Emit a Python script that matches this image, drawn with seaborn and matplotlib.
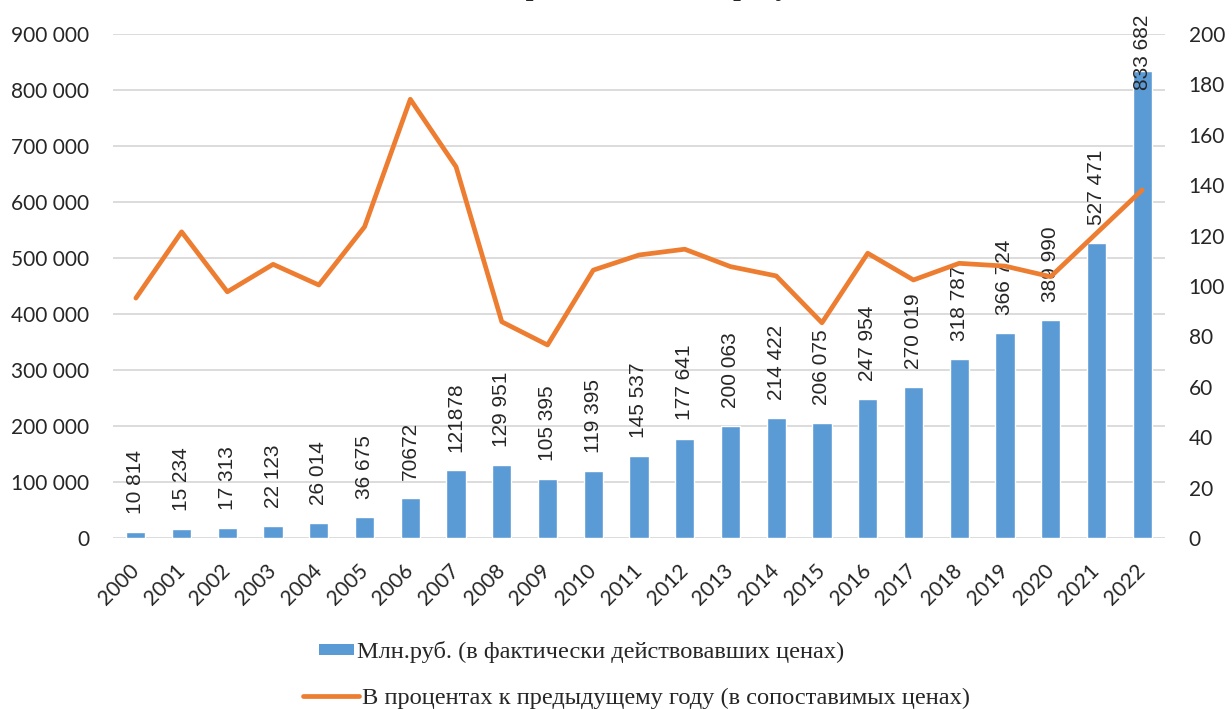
import numpy as np
import pandas as pd
import matplotlib
matplotlib.use("Agg")
import matplotlib.pyplot as plt
from matplotlib.lines import Line2D
from matplotlib.patches import Patch
import seaborn as sns

# Data
years = [str(y) for y in range(2000, 2023)]
mln_rub = [10814, 15234, 17313, 22123, 26014, 36675, 70672, 121878, 129951,
           105395, 119395, 145537, 177641, 200063, 214422, 206075, 247954,
           270019, 318787, 366724, 389990, 527471, 833682]
bar_labels = ["10 814", "15 234", "17 313", "22 123", "26 014", "36 675",
              "70672", "121878", "129 951", "105 395", "119 395", "145 537",
              "177 641", "200 063", "214 422", "206 075", "247 954",
              "270 019", "318 787", "366 724", "389 990", "527 471",
              "833 682"]
growth_pct = [95.2, 121.5, 97.7, 108.6, 100.4, 123.5, 174.1, 147.3, 85.8,
              76.6, 106.3, 112.3, 114.6, 107.7, 104.0, 85.4, 113.0, 102.4,
              109.0, 107.9, 103.7, 120.9, 138.1]
left_ticks = [0, 100000, 200000, 300000, 400000, 500000, 600000, 700000,
              800000, 900000]
left_ticklabels = ["0", "100 000", "200 000", "300 000", "400 000",
                   "500 000", "600 000", "700 000", "800 000", "900 000"]
right_ticks = [0, 20, 40, 60, 80, 100, 120, 140, 160, 180, 200]

bar_name = "Млн.руб. (в фактически действовавших ценах)"
line_name = "В процентах к предыдущему году (в сопоставимых ценах)"
title = "Валовой региональный продукт"

BLUE = "#5B9BD5"
ORANGE = "#ED7D31"
GRID = "#D9D9D9"

sns.set_style("white")
plt.rcParams["font.family"] = ["Lato", "DejaVu Sans"]

df = pd.DataFrame({"year": years, "value": mln_rub, "pct": growth_pct})

fig = plt.figure(figsize=(12.32, 7.09), dpi=100)
ax = fig.add_axes([113 / 1232, 1 - 538 / 709, (1165 - 113) / 1232, 504 / 709])

sns.barplot(data=df, x="year", y="value", color=BLUE, width=0.42,
            saturation=1, ax=ax)
ax.set_ylim(0, 900000)
ax.set_xlim(-0.5, len(years) - 0.5)
ax.set_yticks(left_ticks)
ax.set_yticklabels(left_ticklabels)
ax.set_xlabel("")
ax.set_ylabel("")
ax.yaxis.grid(True, color=GRID, linewidth=1.3)
ax.set_axisbelow(True)
ax.tick_params(axis="y", length=0, pad=17, labelsize=15)
ax.tick_params(axis="x", length=0, pad=21, labelsize=15)
for lbl in ax.get_xticklabels():
    lbl.set_rotation(45)
    lbl.set_ha("right")
    lbl.set_va("center")
    lbl.set_rotation_mode("anchor")
for s in ax.spines.values():
    s.set_visible(False)

# data labels on bars
for i, (v, txt) in enumerate(zip(mln_rub, bar_labels)):
    if v == max(mln_rub):
        ax.text(i, 1.038, txt, transform=ax.get_xaxis_transform(),
                rotation=90, ha="center", va="top", fontsize=15,
                family="Liberation Sans", clip_on=False)
    else:
        ax.annotate(txt, (i, v), xytext=(0, 13), textcoords="offset points",
                    rotation=90, ha="center", va="bottom", fontsize=15,
                    family="Liberation Sans")

ax2 = ax.twinx()
sns.lineplot(x=np.arange(len(years)), y=growth_pct, color=ORANGE,
             linewidth=3.4, ax=ax2)
ax2.set_ylim(0, 200)
ax2.set_yticks(right_ticks)
ax2.tick_params(axis="y", length=0, pad=17, labelsize=15)
for s in ax2.spines.values():
    s.set_visible(False)

# title sits mostly above the top edge, as in the source picture
fig.text(0.5, 1.007, title, ha="center", va="baseline", fontsize=20,
         fontweight="bold", family="Liberation Serif")

# legends, one entry per row
leg_font = {"family": "Liberation Serif", "size": 17.6}
fig.legend(handles=[Patch(facecolor=BLUE, edgecolor="none")],
           labels=[bar_name], loc="center",
           bbox_to_anchor=(581.5 / 1232, 1 - 652 / 709), frameon=False,
           prop=leg_font, handlelength=1.45, handleheight=0.3,
           handletextpad=0.1)
fig.legend(handles=[Line2D([0], [0], color=ORANGE, linewidth=3.4)],
           labels=[line_name], loc="center",
           bbox_to_anchor=(636.5 / 1232, 1 - 698 / 709), frameon=False,
           prop=leg_font, handlelength=2.3, handletextpad=0.1)

fig.savefig("out.png", dpi=100)
